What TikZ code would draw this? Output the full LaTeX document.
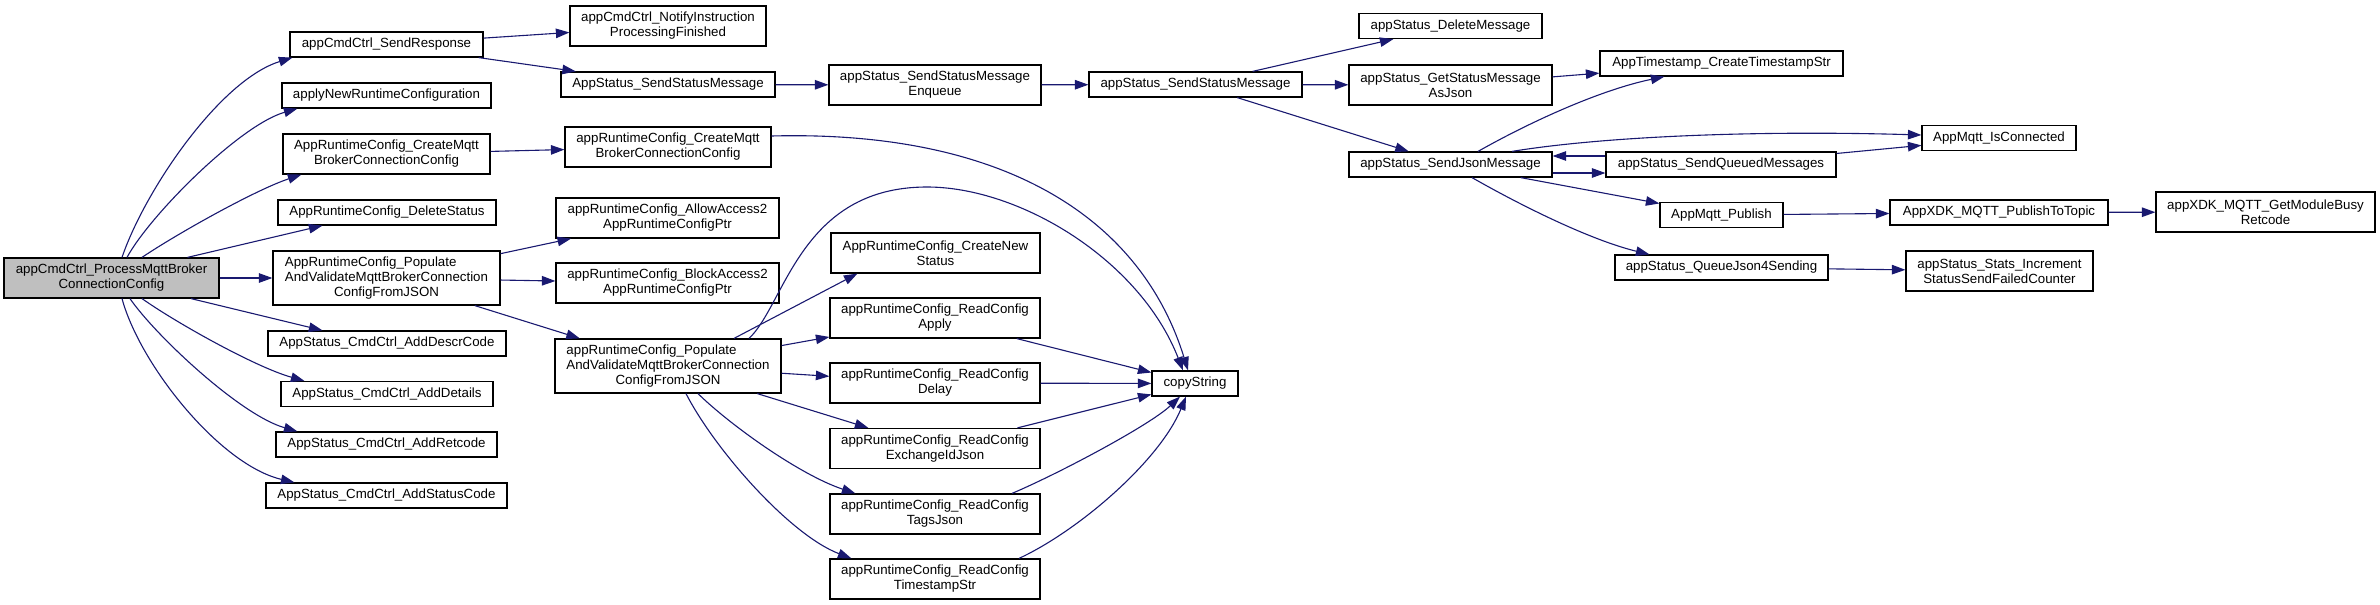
\documentclass[tikz,border=0pt]{standalone}
\usepackage{fontspec}
\setmainfont{Liberation Sans}
\usepackage{xcolor}
\usepackage{tikz}
\usetikzlibrary{arrows.meta}
\definecolor{edgeblue}{HTML}{191970}
\definecolor{rootgrey}{HTML}{BFBFBF}
\newcommand{\callfont}{\fontsize{13.3}{15}\selectfont}
% first two lines flush left, last line centred
\newcommand{\threelines}[3]{\begin{tabular}{@{}l@{}}#1\\#2\\\multicolumn{1}{@{}c@{}}{#3}\end{tabular}}
\tikzset{
    callgraph/.style={>={Triangle[length=13.5pt, width=9.5pt]}, x=1pt, y=-1pt, font=\callfont},
    fn/.style={draw, fill=white, line width=1.2pt, inner sep=0pt, minimum height=25pt, align=center},
    fntwo/.style={fn, minimum height=40pt},
    fnthree/.style={fn, minimum height=54pt},
    rootfn/.style={fntwo, fill=rootgrey},
    calls/.style={->, edgeblue, line width=1.1pt},
}

\begin{document}
\begin{tikzpicture}[callgraph]
    \useasboundingbox (0,0) rectangle (2380,605);

    \node[rootfn, minimum width=215]  (root)       at (111.5,278)  {appCmdCtrl\_ProcessMqttBroker\\ConnectionConfig};

    \node[fn, minimum width=193]      (sresp)      at (386.5,44.5) {appCmdCtrl\_SendResponse};
    \node[fn, minimum width=209]      (applyNew)   at (386.5,95.5) {applyNewRuntimeConfiguration};
    \node[fntwo, minimum width=207]   (cfgA)       at (386.5,154)  {AppRuntimeConfig\_CreateMqtt\\BrokerConnectionConfig};
    \node[fn, minimum width=218]      (delStatus)  at (387,212.5)  {AppRuntimeConfig\_DeleteStatus};
    \node[fnthree, minimum width=227] (popA)       at (386.5,278)  {\threelines{AppRuntimeConfig\_Populate}{AndValidateMqttBrokerConnection}{ConfigFromJSON}};
    \node[fn, minimum width=238]      (addDescr)   at (387,343.5)  {AppStatus\_CmdCtrl\_AddDescrCode};
    \node[fn, minimum width=212]      (addDetails) at (387,394)    {AppStatus\_CmdCtrl\_AddDetails};
    \node[fn, minimum width=221]      (addRet)     at (386.5,444.5) {AppStatus\_CmdCtrl\_AddRetcode};
    \node[fn, minimum width=241]      (addStatus)  at (386.5,495.5) {AppStatus\_CmdCtrl\_AddStatusCode};

    \node[fntwo, minimum width=196]   (notify)     at (668,26)     {appCmdCtrl\_NotifyInstruction\\ProcessingFinished};
    \node[fn, minimum width=214]      (statMsgA)   at (668,84.5)   {AppStatus\_SendStatusMessage};
    \node[fntwo, minimum width=206]   (cfgB)       at (668,147)    {appRuntimeConfig\_CreateMqtt\\BrokerConnectionConfig};
    \node[fntwo, minimum width=223]   (allow)      at (667.5,218)  {appRuntimeConfig\_AllowAccess2\\AppRuntimeConfigPtr};
    \node[fntwo, minimum width=223]   (block)      at (667.5,283)  {appRuntimeConfig\_BlockAccess2\\AppRuntimeConfigPtr};
    \node[fnthree, minimum width=226] (popB)       at (668,366)    {\threelines{appRuntimeConfig\_Populate}{AndValidateMqttBrokerConnection}{ConfigFromJSON}};

    \node[fntwo, minimum width=212]   (enqueue)    at (935,85)     {appStatus\_SendStatusMessage\\Enqueue};
    \node[fntwo, minimum width=209]   (newStatus)  at (935.5,253)  {AppRuntimeConfig\_CreateNew\\Status};
    \node[fntwo, minimum width=210]   (rdApply)    at (935,318)    {appRuntimeConfig\_ReadConfig\\Apply};
    \node[fntwo, minimum width=210]   (rdDelay)    at (935,383)    {appRuntimeConfig\_ReadConfig\\Delay};
    \node[fntwo, minimum width=210]   (rdExch)     at (935,448.5)  {appRuntimeConfig\_ReadConfig\\ExchangeIdJson};
    \node[fntwo, minimum width=210]   (rdTags)     at (935,514)    {appRuntimeConfig\_ReadConfig\\TagsJson};
    \node[fntwo, minimum width=210]   (rdStamp)    at (935,579)    {appRuntimeConfig\_ReadConfig\\TimestampStr};

    \node[fn, minimum width=213]      (statMsgB)   at (1195.5,84.5) {appStatus\_SendStatusMessage};
    \node[fn, minimum width=86]       (copyStr)    at (1195,383.5) {copyString};

    \node[fn, minimum width=183]      (delMsg)     at (1450.5,26)  {appStatus\_DeleteMessage};
    \node[fntwo, minimum width=203]   (getJson)    at (1450.5,85)  {appStatus\_GetStatusMessage\\AsJson};
    \node[fn, minimum width=203]      (sendJson)   at (1450.5,164.5) {appStatus\_SendJsonMessage};

    \node[fn, minimum width=243]      (tstamp)     at (1721.5,63.5) {AppTimestamp\_CreateTimestampStr};
    \node[fn, minimum width=230]      (sendQueued) at (1721,164.5) {appStatus\_SendQueuedMessages};
    \node[fn, minimum width=123]      (publish)    at (1721.5,215) {AppMqtt\_Publish};
    \node[fn, minimum width=213]      (queueJson)  at (1721.5,267.5) {appStatus\_QueueJson4Sending};

    \node[fn, minimum width=154]      (isConn)     at (1999,138)   {AppMqtt\_IsConnected};
    \node[fn, minimum width=218]      (toTopic)    at (1999,212.5) {AppXDK\_MQTT\_PublishToTopic};
    \node[fntwo, minimum width=187]   (statsInc)   at (1999.5,271) {appStatus\_Stats\_Increment\\StatusSendFailedCounter};

    \node[fntwo, minimum width=219]   (busy)       at (2265.5,212) {appXDK\_MQTT\_GetModuleBusy\\Retcode};

    % calls made by the root
    \draw[calls] ([xshift=10.5]root.north) .. controls (145,190) and (220,80) .. ([xshift=3]sresp.south west);
    \draw[calls] ([xshift=15.5]root.north) .. controls (150,215) and (240,125) .. ([xshift=16]applyNew.south west);
    \draw[calls] ([xshift=30.5]root.north) .. controls (175,235) and (255,190) .. ([xshift=19]cfgA.south west);
    \draw[calls] ([xshift=76]root.north) -- ([xshift=45]delStatus.south west);
    \draw[calls] (root) -- (popA);
    \draw[calls] ([xshift=79.5]root.south) -- ([xshift=55]addDescr.north west);
    \draw[calls] ([xshift=30.5]root.south) .. controls (175,322) and (255,367) .. ([xshift=24]addDetails.north west);
    \draw[calls] ([xshift=18.5]root.south) .. controls (155,335) and (240,415) .. ([xshift=22]addRet.north west);
    \draw[calls] ([xshift=10.5]root.south) .. controls (140,365) and (220,465) .. ([xshift=29]addStatus.north west);

    \draw[calls] (sresp) -- (notify);
    \draw[calls] (sresp) -- (statMsgA);
    \draw[calls] (cfgA) -- (cfgB);
    \draw[calls] (popA) -- (allow);
    \draw[calls] (popA) -- (block);
    \draw[calls] (popA) -- (popB);

    % the populate helper and its readers
    \draw[calls] ([xshift=66]popB.north) -- ([xshift=27]newStatus.south west);
    \draw[calls] (popB) -- (rdApply);
    \draw[calls] (popB) -- (rdDelay);
    \draw[calls] (popB) -- (rdExch);
    \draw[calls] ([xshift=30]popB.south) .. controls (730,425) and (800,475) .. ([xshift=26]rdTags.north west);
    \draw[calls] ([xshift=18]popB.south) .. controls (715,450) and (790,535) .. ([xshift=22]rdStamp.north west);

    % everything ends in copyString
    \draw[calls] ([yshift=11]cfgB.east) .. controls (1000,130) and (1140,215) .. ([xshift=-7]copyStr.north);
    \draw[calls] ([xshift=81]popB.north) .. controls (785,305) and (800,187) .. (927,187)
                 .. controls (1020,187) and (1140,260) .. ([xshift=-12]copyStr.north);
    \draw[calls] (rdApply) -- (copyStr);
    \draw[calls] (rdDelay) -- (copyStr);
    \draw[calls] (rdExch) -- (copyStr);
    \draw[calls] ([xshift=77]rdTags.north) .. controls (1060,473) and (1150,425) .. ([xshift=-15]copyStr.south);
    \draw[calls] ([xshift=84]rdStamp.north) .. controls (1080,530) and (1160,460) .. ([xshift=-9]copyStr.south);

    % status message chain
    \draw[calls] (statMsgA) -- (enqueue);
    \draw[calls] (enqueue) -- (statMsgB);
    \draw[calls] (statMsgB) -- (delMsg);
    \draw[calls] (statMsgB) -- (getJson);
    \draw[calls] (statMsgB) -- (sendJson);
    \draw[calls] (getJson) -- (tstamp);
    \draw[calls] ([xshift=27.5]sendJson.north) .. controls (1530,122) and (1600,90) .. ([xshift=65]tstamp.south west);
    \draw[calls] ([xshift=61.5]sendJson.north) .. controls (1600,137) and (1750,130) .. ([yshift=3]isConn.west);
    \draw[calls] ([yshift=-8.5]sendJson.east) -- ([yshift=-8.5]sendQueued.west);
    \draw[calls] ([yshift=8.5]sendQueued.west) -- ([yshift=8.5]sendJson.east);
    \draw[calls] (sendJson) -- (publish);
    \draw[calls] ([xshift=21.5]sendJson.south) .. controls (1520,205) and (1590,240) .. ([xshift=35]queueJson.north west);

    \draw[calls] (sendQueued) -- (isConn);
    \draw[calls] (publish) -- (toTopic);
    \draw[calls] (queueJson) -- (statsInc);
    \draw[calls] (toTopic) -- (busy);
\end{tikzpicture}
\end{document}
